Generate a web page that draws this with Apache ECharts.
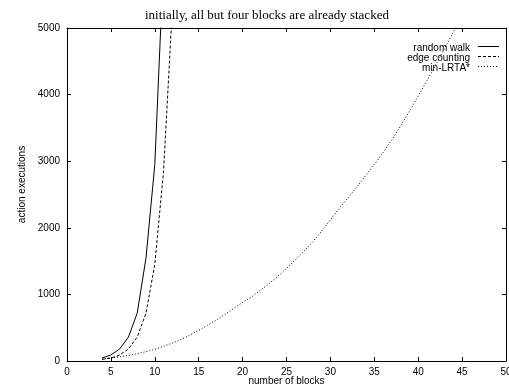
<!DOCTYPE html>
<html>
<head>
<meta charset="utf-8">
<script src="https://cdn.jsdelivr.net/npm/echarts@6/dist/echarts.min.js"></script>
<style>
  html, body { margin: 0; padding: 0; background: #fff; }
  #chart { width: 509px; height: 387px; }
</style>
</head>
<body>
<div id="chart"></div>
<script>
// Blocks-world runs: number of action executions vs. number of blocks
const titleText = 'initially, all but four blocks are already stacked';
const xName = 'number of blocks';
const yName = 'action executions';

const randomWalkBlocks = [4, 5, 6, 7, 8, 9, 10, 11];
const randomWalk = [45, 90, 180, 360, 720, 1550, 2950, 6000];

const edgeCountingBlocks = [4, 5, 6, 7, 8, 9, 10, 11, 12];
const edgeCounting = [25, 45, 90, 180, 360, 720, 1450, 2850, 5300];

const minLrtaBlocks = [4, 5, 6, 7, 8, 9, 10, 11, 12, 13, 14, 15, 16, 17, 18, 19, 20,
  21, 22, 23, 24, 25, 26, 27, 28, 29, 30, 31, 32, 33, 34, 35, 36, 37, 38, 39, 40,
  41, 42, 43, 44, 45];
const minLrta = [30, 45, 62, 85, 110, 140, 175, 220, 270, 325, 390, 460, 535, 615, 700, 790, 880,
  960, 1060, 1160, 1270, 1390, 1520, 1650, 1790, 1950, 2120, 2290, 2450, 2610, 2780, 2950, 3130,
  3320, 3530, 3750, 3980, 4210, 4450, 4690, 4940, 5180];

const seriesNames = ['random walk', 'edge counting', 'min-LRTA*'];

const pair = (xs, ys) => xs.map((x, i) => [x, ys[i]]);

const sans = 'Liberation Sans, Arial, sans-serif';
const serif = 'Liberation Serif, Times New Roman, serif';

const chart = echarts.init(document.getElementById('chart'), null, { renderer: 'canvas' });

const lineSeries = (name, data, dash) => ({
  name,
  type: 'line',
  data,
  showSymbol: false,
  symbol: 'none',
  clip: true,
  animation: false,
  lineStyle: { color: '#000', width: 1, type: dash },
  itemStyle: { color: '#000' }
});

const plainNumber = v => String(v);

chart.setOption({
  animation: false,
  backgroundColor: '#fff',
  title: {
    text: titleText,
    left: 140,
    top: 4,
    textStyle: { fontFamily: serif, fontSize: 13, fontWeight: 'normal', color: '#000' }
  },
  legend: {
    right: 29,
    top: 38,
    orient: 'vertical',
    align: 'right',
    itemWidth: 0,
    itemHeight: 10,
    itemGap: 0,
    textStyle: { fontFamily: sans, fontSize: 10, lineHeight: 10, color: '#000' },
    data: seriesNames.map(n => ({ name: n, icon: 'none' }))
  },
  grid: { left: 67, right: 3, top: 28, bottom: 26, containLabel: false, outerBoundsMode: 'none' },
  xAxis: [{
    type: 'value',
    min: 0, max: 50, interval: 5,
    name: xName,
    nameLocation: 'middle',
    nameGap: 15,
    nameMoveOverlap: false,
    nameTextStyle: { fontFamily: sans, fontSize: 10, color: '#000' },
    axisLine: { show: true, onZero: false, lineStyle: { color: '#000', width: 1 } },
    axisTick: { show: true, inside: true, length: 4, lineStyle: { color: '#000' } },
    axisLabel: { fontFamily: sans, fontSize: 10, color: '#000', margin: 6, formatter: plainNumber },
    splitLine: { show: false }
  }, {
    type: 'value',
    position: 'top',
    min: 0, max: 50, interval: 5,
    axisLine: { show: true, onZero: false, lineStyle: { color: '#000', width: 1 } },
    axisTick: { show: true, inside: true, length: 4, lineStyle: { color: '#000' } },
    axisLabel: { show: false },
    splitLine: { show: false }
  }],
  yAxis: [{
    type: 'value',
    min: 0, max: 5000, interval: 1000,
    name: yName,
    nameLocation: 'middle',
    nameGap: 40,
    nameMoveOverlap: false,
    nameTextStyle: { fontFamily: sans, fontSize: 10, color: '#000', padding: [0, 0, 0, 20] },
    axisLine: { show: true, onZero: false, lineStyle: { color: '#000', width: 1 } },
    axisTick: { show: true, inside: true, length: 4, lineStyle: { color: '#000' } },
    axisLabel: { fontFamily: sans, fontSize: 10, color: '#000', margin: 7, formatter: plainNumber },
    splitLine: { show: false }
  }, {
    type: 'value',
    position: 'right',
    min: 0, max: 5000, interval: 1000,
    axisLine: { show: true, onZero: false, lineStyle: { color: '#000', width: 1 } },
    axisTick: { show: true, inside: true, length: 4, lineStyle: { color: '#000' } },
    axisLabel: { show: false },
    splitLine: { show: false }
  }],
  series: [
    lineSeries(seriesNames[0], pair(randomWalkBlocks, randomWalk), 'solid'),
    lineSeries(seriesNames[1], pair(edgeCountingBlocks, edgeCounting), [3, 2]),
    lineSeries(seriesNames[2], pair(minLrtaBlocks, minLrta), [1, 2])
  ]
});

// Legend key lines drawn to the right of each legend label
const keyX0 = 478, keyX1 = 499;
const keyY = [46, 56, 66];
const dashes = [null, [3, 2], [1, 2]];
chart.setOption({
  graphic: keyY.map((y, i) => ({
    type: 'line',
    shape: { x1: keyX0, y1: y + 0.5, x2: keyX1, y2: y + 0.5 },
    style: { stroke: '#000', lineWidth: 1, lineDash: dashes[i] },
    silent: true
  }))
});
</script>
</body>
</html>
